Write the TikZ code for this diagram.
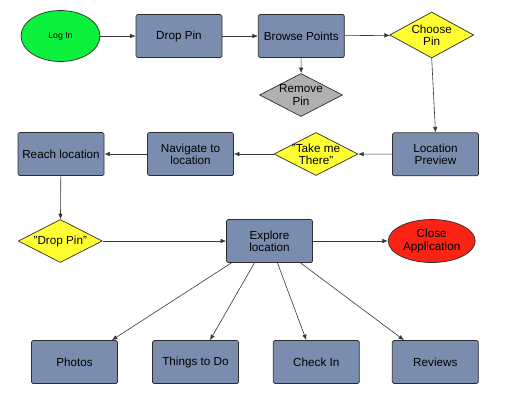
\documentclass[tikz,border=0pt]{standalone}
\usepackage{fontspec}
\setmainfont{Liberation Sans}
\usetikzlibrary{shapes.geometric,arrows.meta}
\definecolor{boxfill}{RGB}{122,141,174}
\definecolor{okgreen}{RGB}{10,240,60}
\definecolor{decyellow}{RGB}{255,255,51}
\definecolor{decgray}{RGB}{176,176,176}
\definecolor{stopred}{RGB}{250,35,20}
\definecolor{edge}{RGB}{45,45,45}
\definecolor{wire}{RGB}{55,55,55}
\tikzset{
  basefont/.style={font=\fontsize{11.7}{12.3}\selectfont, align=center, text=black},
  stepbox/.style={basefont, rectangle, rounded corners=1.5pt, draw=edge, line width=0.7pt,
    fill=boxfill, minimum width=86pt, minimum height=43pt, inner sep=1pt},
  decision/.style={basefont, diamond, draw=edge, line width=0.7pt, inner xsep=-8pt, inner ysep=-6pt,
    minimum width=84pt, minimum height=44pt},
  terminal/.style={basefont, ellipse, draw=edge, line width=0.7pt, inner sep=0pt},
  arr/.style={draw=wire, line width=0.6pt, -{Latex[length=5.5pt,width=4.5pt]}}
}
\begin{document}
\begin{tikzpicture}[x=1pt,y=-1pt]
\useasboundingbox (0,0) rectangle (517,405);
\fill[white] (0,0) rectangle (517,405);
% row 1
\node[terminal, fill=okgreen, minimum width=79pt, minimum height=51pt,
      font=\fontsize{8.7}{10}\selectfont] (login) at (60.5,36) {Log In};
\node[stepbox] (droppin) at (179,36) {Drop Pin};
\node[stepbox] (browse) at (301.3,36) {Browse Points};
\node[decision, fill=decyellow, minimum height=46pt] (choose) at (431.7,35) {Choose\\Pin};
\node[decision, fill=decgray, minimum height=43pt, minimum width=83pt] (remove) at (301,95) {Remove\\Pin};
% row 2
\node[stepbox] (preview) at (435.5,154.3) {Location\\Preview};
\node[decision, fill=decyellow, minimum height=43pt] (take) at (316,154) {"Take me\\There"};
\node[stepbox] (navigate) at (190.5,154) {Navigate to\\location};
\node[stepbox] (reach) at (61,154) {Reach location};
% row 3
\node[decision, fill=decyellow, minimum height=43pt] (dpin) at (60.3,241) {"Drop Pin"};
\node[stepbox] (explore) at (269.5,241) {Explore\\location};
\node[terminal, fill=stopred, minimum width=87pt, minimum height=43pt] (close) at (431.7,241) {Close\\Application};
% row 4
\node[stepbox] (photos) at (74.5,362) {Photos};
\node[stepbox] (things) at (195.5,362) {Things to Do};
\node[stepbox] (checkin) at (316.3,362) {Check In};
\node[stepbox] (reviews) at (435.3,362) {Reviews};
% connectors
\draw[arr] (login) -- (droppin);
\draw[arr] (droppin) -- (browse);
\draw[arr] (browse) -- (choose);
\draw[arr] (browse) -- (remove);
\draw[arr] (choose.south) -- (preview.north);
\draw[arr] (preview) -- (take);
\draw[arr] (take) -- (navigate);
\draw[arr] (navigate) -- (reach);
\draw[arr] (reach) -- (dpin);
\draw[arr] (dpin) -- (explore);
\draw[arr] (explore) -- (close);
\draw[arr] ([xshift=5.3pt]explore.south west) -- ([xshift=-6pt]photos.north east);
\draw[arr] ([xshift=28.3pt]explore.south west) -- ([xshift=14.5pt]things.north);
\draw[arr] ([xshift=51.3pt]explore.south west) -- ([xshift=-10pt]checkin.north);
\draw[arr] ([xshift=74.3pt]explore.south west) -- ([xshift=12pt]reviews.north west);
\end{tikzpicture}
\end{document}
